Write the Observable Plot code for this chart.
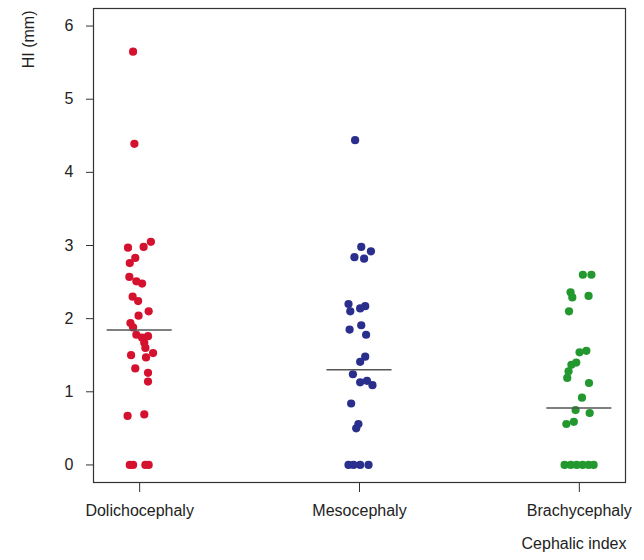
<!DOCTYPE html>
<html>
<head>
<meta charset="utf-8">
<script src="https://cdn.jsdelivr.net/npm/d3@7"></script>
<script src="https://cdn.jsdelivr.net/npm/@observablehq/plot@0.6"></script>
<style>
  html, body { margin: 0; padding: 0; background: #fff; }
</style>
</head>
<body>
<div id="chart"></div>
<script>
// Categories (x axis)
const categories = ["Dolichocephaly", "Mesocephaly", "Brachycephaly"];
const colors = ["#d4122f", "#2a2e8c", "#23982f"];

// HI (mm) values and horizontal jitter (in category units)
const dolichoHI = [5.65, 4.39, 2.97, 2.98, 3.05, 2.83, 2.76, 2.57, 2.51, 2.48, 2.30, 2.24, 2.10, 2.04, 1.94, 1.88, 1.78, 1.74, 1.76, 1.67, 1.60, 1.53, 1.47, 1.50, 1.32, 1.26, 1.14, 0.67, 0.69, 0, 0, 0, 0];
const dolichoJitter = [-0.03, -0.024, -0.053, 0.018, 0.051, -0.02, -0.045, -0.047, -0.015, 0.011, -0.032, -0.007, 0.041, -0.005, -0.042, -0.03, -0.015, 0.011, 0.038, 0.021, 0.026, 0.061, 0.029, -0.039, -0.02, 0.038, 0.038, -0.055, 0.021, -0.045, -0.03, 0.026, 0.041];

const mesoHI = [4.44, 2.98, 2.84, 2.82, 2.92, 2.20, 2.10, 2.14, 2.17, 1.85, 1.91, 1.78, 1.48, 1.41, 1.24, 1.13, 1.15, 1.09, 0.84, 0.56, 0.50, 0, 0, 0, 0];
const mesoJitter = [-0.02, 0.008, -0.023, 0.021, 0.052, -0.05, -0.042, 0.003, 0.026, -0.045, 0.008, 0.03, 0.026, 0.003, -0.03, 0.003, 0.034, 0.059, -0.038, -0.005, -0.015, -0.05, -0.027, 0.003, 0.041];

const brachyHI = [2.60, 2.60, 2.36, 2.29, 2.31, 2.10, 1.54, 1.56, 1.40, 1.37, 1.28, 1.19, 1.12, 0.92, 0.75, 0.71, 0.59, 0.56, 0, 0, 0, 0, 0, 0];
const brachyJitter = [0.016, 0.055, -0.04, -0.032, 0.042, -0.047, 0.001, 0.032, -0.014, -0.036, -0.049, -0.055, 0.044, 0.012, -0.017, 0.047, -0.025, -0.059, -0.067, -0.039, -0.012, 0.015, 0.042, 0.065];

// Median of each group
const medians = [1.845, 1.30, 0.78];

// Y ticks
const yTicks = [0, 1, 2, 3, 4, 5, 6];

// Build table
const groups = [
  [dolichoHI, dolichoJitter],
  [mesoHI, mesoJitter],
  [brachyHI, brachyJitter]
];
const points = [];
groups.forEach(([vals, jit], gi) => {
  vals.forEach((v, i) => points.push({group: categories[gi], gx: gi + 1 + jit[i], hi: v}));
});
const medianRows = medians.map((m, i) => ({group: categories[i], x1: i + 1 - 0.148, x2: i + 1 + 0.148, m}));

const chart = Plot.plot({
  width: 644,
  height: 560,
  marginLeft: 93,
  marginRight: 19,
  marginTop: 8,
  marginBottom: 78,
  style: {fontFamily: "'Liberation Sans', Arial, sans-serif", fontSize: "16px", color: "#222", background: "#fff"},
  x: {type: "linear", domain: [0.79, 3.21]},
  y: {domain: [-0.24, 6.24]},
  color: {domain: categories, range: colors},
  marks: [
    Plot.frame({stroke: "#333", strokeWidth: 1.2}),
    Plot.axisY({ticks: yTicks, tickFormat: d => String(d), tickSize: 7, tickPadding: 13, label: null, stroke: "#333"}),
    Plot.axisX({ticks: [1, 2, 3], tickFormat: d => categories[d - 1], tickSize: 10, tickPadding: 12, label: null, stroke: "#333"}),
    Plot.dot(points, {x: "gx", y: "hi", fill: "group", r: 4.1, stroke: null}),
    Plot.ruleY(medianRows, {x1: "x1", x2: "x2", y: "m", stroke: "#555", strokeWidth: 1.5}),
    Plot.text(["HI (mm)"], {frameAnchor: "top-left", rotate: -90, textAnchor: "end", dx: -71, dy: 2, fill: "#222"}),
    Plot.text(["Cephalic index"], {frameAnchor: "bottom-right", textAnchor: "end", dx: 1, dy: 66, fill: "#222"})
  ]
});
document.getElementById("chart").appendChild(chart);
</script>
</body>
</html>
